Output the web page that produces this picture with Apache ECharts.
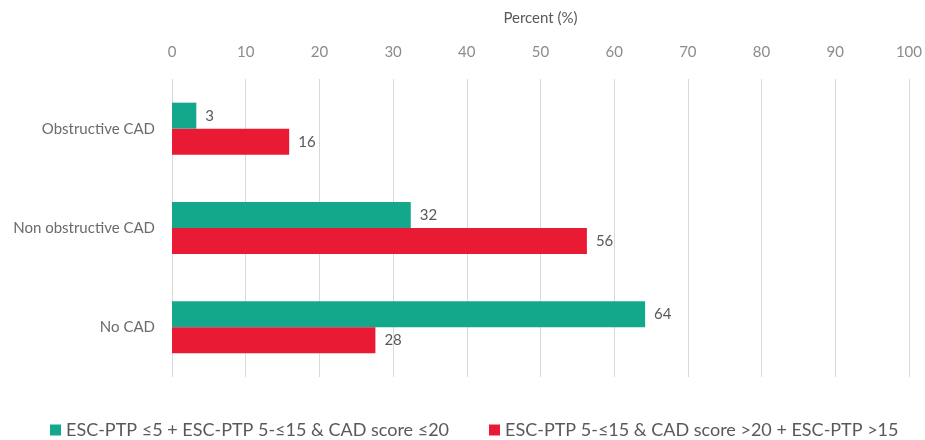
<!DOCTYPE html>
<html>
<head>
<meta charset="utf-8">
<script src="https://cdn.jsdelivr.net/npm/echarts@6/dist/echarts.min.js"></script>
<style>html,body{margin:0;padding:0;background:#fff}#c{width:925px;height:440px}</style>
</head>
<body>
<div id="c"></div>
<script>
var categories = ['Obstructive CAD', 'Non obstructive CAD', 'No CAD'];
var seriesNames = ['ESC-PTP \u22645 + ESC-PTP 5-\u226415 & CAD score \u226420', 'ESC-PTP 5-\u226415 & CAD score >20 + ESC-PTP >15'];
var greenValues = [3.3, 32.4, 64.2];
var redValues = [15.9, 56.3, 27.6];
var xTicks = [0, 100, 10];

var font = 'Lato, "Open Sans", sans-serif';
var chart = echarts.init(document.getElementById('c'));
function lbl() {
  return {show: true, position: 'right', distance: 9, color: '#595959', fontSize: 15, fontFamily: font,
    formatter: function (p) { return Math.round(p.value); }};
}
chart.setOption({
  animation: false,
  textStyle: {fontFamily: font},
  grid: {left: 172, right: 12, top: 79, bottom: 63},
  legend: {
    top: 416, left: 45, itemGap: 40, itemWidth: 11, itemHeight: 11, icon: 'rect',
    textStyle: {fontSize: 18, color: '#595959', fontFamily: font},
    data: seriesNames
  },
  xAxis: {
    type: 'value', position: 'top', min: xTicks[0], max: xTicks[1], interval: xTicks[2],
    name: 'Percent (%)', nameLocation: 'middle', nameGap: 53,
    nameTextStyle: {fontSize: 15, color: '#595959', fontFamily: font},
    axisLine: {show: false}, axisTick: {show: false},
    axisLabel: {fontSize: 15, color: '#8c8c8c', margin: 19, fontFamily: font},
    splitLine: {lineStyle: {color: '#d9d9d9', width: 1}}
  },
  yAxis: {
    type: 'category', inverse: true, data: categories,
    axisLine: {show: false}, axisTick: {show: false},
    axisLabel: {fontSize: 15, color: '#6b6b6b', margin: 17, fontFamily: font}
  },
  series: [
    {name: seriesNames[0], type: 'bar', data: greenValues, barWidth: 26, barGap: '0%',
     itemStyle: {color: '#13a88b'}, label: lbl()},
    {name: seriesNames[1], type: 'bar', data: redValues, barWidth: 26, barGap: '0%',
     itemStyle: {color: '#e91a33'}, label: lbl()}
  ]
});
</script>
</body>
</html>
